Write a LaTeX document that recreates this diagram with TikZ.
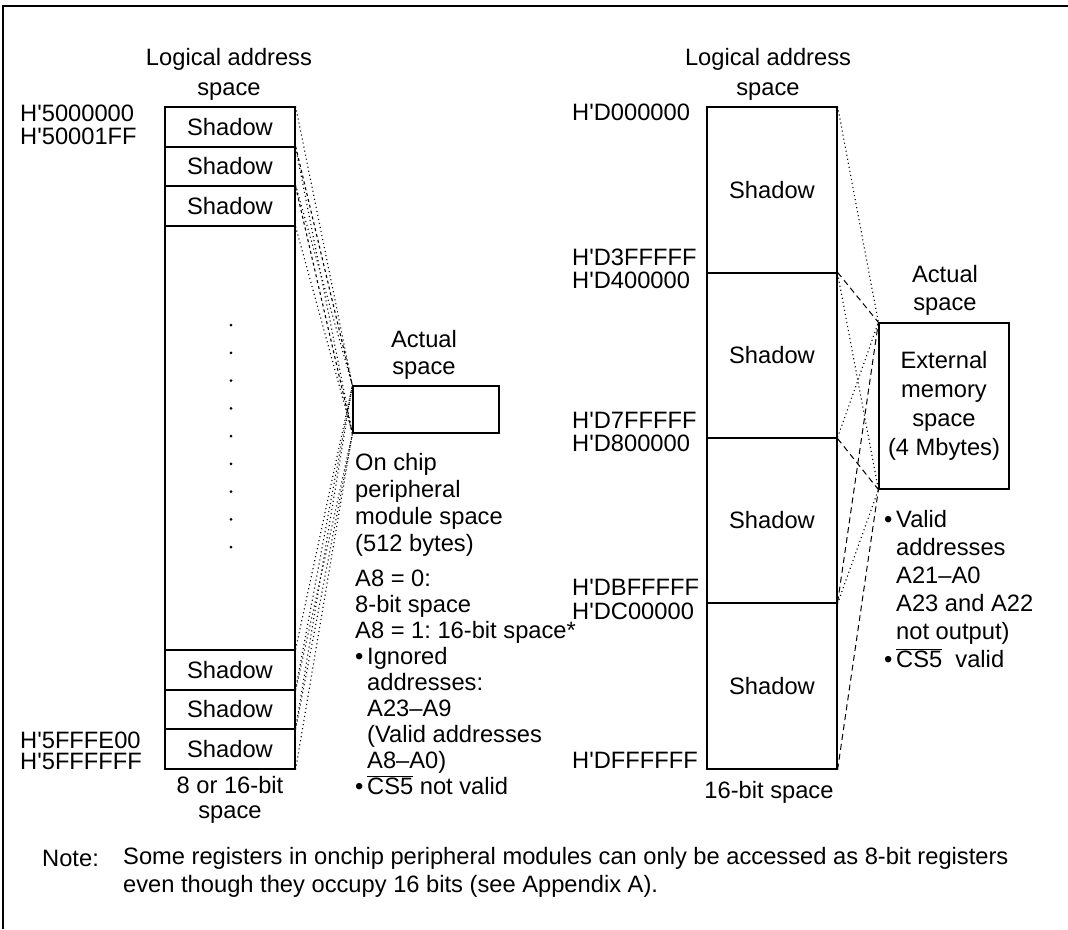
\documentclass[tikz,border=0pt]{standalone}
\usepackage{fontspec}
\setmainfont{Liberation Sans}
\frenchspacing
\newcommand\bul{\makebox[12pt][l]{•}}
\newcommand\ind{\hspace*{12pt}}
\newcommand\csfive{$\overline{\hbox{CS5}}$}
\newcommand\q{\textquotesingle}
\begin{document}
\begin{tikzpicture}[x=1pt,y=-1pt,
  every node/.style={font=\fontsize{23.7}{28}\selectfont, inner sep=0pt},
  box/.style={draw, line width=1.2pt, minimum width=130pt, align=center},
  lbl/.style={anchor=west},
  dotl/.style={line width=1.1pt, dash pattern=on 1.1pt off 3pt},
  dashl/.style={line width=1pt, dash pattern=on 6pt off 4pt},
  dashs/.style={line width=1.1pt, dash pattern=on 3pt off 3pt},
]
\useasboundingbox (0,0) rectangle (1068,929);
\draw[line width=1.3pt] (3,929) -- (3,6) -- (1068,6);

% ---------- left column ----------
\node[align=center, font=\fontsize{23.7}{30}\selectfont] (lhead) at (229,74) {Logical address\\space};
\node[box, minimum height=662pt] (lcol) at (230,438) {};
\node[box, minimum height=40pt] (ls1) at (230,127) {Shadow};
\node[box, minimum height=39pt] (ls2) at (230,166.5) {Shadow};
\node[box, minimum height=40pt] (ls3) at (230,206) {Shadow};
\node[box, minimum height=40pt] (ls4) at (230,670) {Shadow};
\node[box, minimum height=39pt] (ls5) at (230,709.5) {Shadow};
\node[box, minimum height=40pt] (ls6) at (230,749) {Shadow};
\foreach \i in {0,...,8} \fill (231,{325+27.75*\i}) circle (1.5pt);
\node[align=center, font=\fontsize{23.7}{25}\selectfont] (lfoot) at (230,800) {8 or 16-bit\\space};

\node[lbl] (a1) at (20,113) {H\q 5000000};
\node[lbl] (a2) at (20,136) {H\q 50001FF};
\node[lbl] (a3) at (20,740) {H\q 5FFFE00};
\node[lbl] (a4) at (20,761) {H\q 5FFFFFF};

% ---------- left actual space ----------
\node[align=center, font=\fontsize{23.7}{27}\selectfont] (lahead) at (424,355) {Actual\\space};
\node[box, minimum width=146pt, minimum height=47pt] (la) at (426,409.5) {};
\node[anchor=west, align=left, font=\fontsize{23.7}{27}\selectfont] (lt1) at (355,505) {On chip\\peripheral\\module space\\(512 bytes)};
\node[anchor=west, align=left, font=\fontsize{23.7}{26}\selectfont] (lt2) at (355,682) {A8 = 0:\\8-bit space\\A8 = 1: 16-bit space*\\\bul Ignored\\\ind addresses:\\\ind A23–A9\\\ind (Valid addresses\\\ind A8–A0)\\\bul\csfive\ not valid};

\draw[dotl] (ls1.north east) -- (la.north west);
\draw[dotl] (ls1.south east) -- (la.south west);
\draw[dashs] (ls2.north east) -- (la.north west);
\draw[dashs] (ls2.south east) -- (la.south west);
\draw[dotl] (ls3.north east) -- (la.north west);
\draw[dotl] (ls3.south east) -- (la.south west);
\draw[dotl] (ls4.north east) -- (la.north west);
\draw[dotl] (ls4.south east) -- (la.south west);
\draw[dotl] (ls5.north east) -- (la.north west);
\draw[dotl] (ls5.south east) -- (la.south west);
\draw[dotl] (ls6.north east) -- (la.north west);
\draw[dotl] (ls6.south east) -- (la.south west);

% ---------- right column ----------
\node[align=center, font=\fontsize{23.7}{30}\selectfont] (rhead) at (768,74) {Logical address\\space};
\node[box, minimum height=166pt] (r1) at (772,190) {Shadow};
\node[box, minimum height=165pt] (r2) at (772,355.5) {Shadow};
\node[box, minimum height=165pt] (r3) at (772,520.5) {Shadow};
\node[box, minimum height=166pt] (r4) at (772,686) {Shadow};
\node (rfoot) at (769,792) {16-bit space};

\node[lbl] (b1) at (572,112) {H\q D000000};
\node[lbl] (b2) at (572,257) {H\q D3FFFFF};
\node[lbl] (b3) at (572,280) {H\q D400000};
\node[lbl] (b4) at (572,420) {H\q D7FFFFF};
\node[lbl] (b5) at (572,443) {H\q D800000};
\node[lbl] (b6) at (572,587) {H\q DBFFFFF};
\node[lbl] (b7) at (572,611) {H\q DC00000};
\node[lbl] (b8) at (572,760) {H\q DFFFFFF};

% ---------- right actual space ----------
\node[align=center, font=\fontsize{23.7}{28}\selectfont] (rahead) at (945,290) {Actual\\space};
\node[box, minimum height=166pt, font=\fontsize{23.7}{29}\selectfont] (ra) at (944,406) {External\\memory\\space\\(4 Mbytes)};
\node[anchor=west, align=left, font=\fontsize{23.7}{28}\selectfont] (rt) at (884,589) {\bul Valid\\\ind addresses\\\ind A21–A0\\\ind A23 and A22\\\ind not output)\\\bul\csfive\ \ valid};

\draw[dotl] (r1.north east) -- (ra.north west);
\draw[dotl] (r1.south east) -- (ra.south west);
\draw[dashl] (r2.north east) -- (ra.north west);
\draw[dashl] (r2.south east) -- (ra.south west);
\draw[dotl] (r3.north east) -- (ra.north west);
\draw[dotl] (r3.south east) -- (ra.south west);
\draw[dashl] (r4.north east) -- (ra.north west);
\draw[dashl] (r4.south east) -- (ra.south west);

% ---------- note ----------
\node[lbl] (note) at (42,858) {Note:};
\node[lbl] (note1) at (123,858) {Some registers in onchip peripheral modules can only be accessed as 8-bit registers};
\node[lbl] (note2) at (123,886) {even though they occupy 16 bits (see Appendix A).};
\end{tikzpicture}
\end{document}
